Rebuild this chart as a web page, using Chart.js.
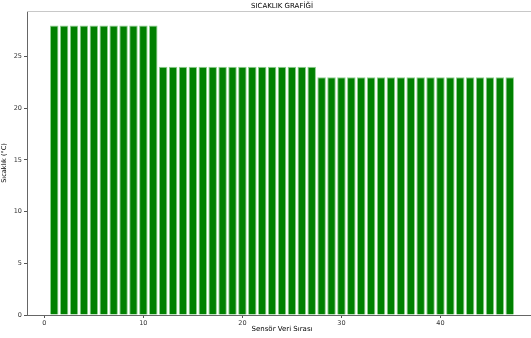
<!DOCTYPE html>
<html>
<head>
<meta charset="utf-8">
<script src="https://cdn.jsdelivr.net/npm/chart.js@4"></script>
<style>
  html, body { margin: 0; padding: 0; overflow: hidden; background: #fff; }
  #wrap { width: 531px; height: 338px; overflow: hidden; }
</style>
</head>
<body>
<div id="wrap"><canvas id="sicaklikGrafik" width="540" height="338"></canvas></div>
<script>
// sensör sırası ve sıcaklık değerleri
var sensorSira = [1, 2, 3, 4, 5, 6, 7, 8, 9, 10, 11, 12, 13, 14, 15, 16, 17, 18, 19, 20,
    21, 22, 23, 24, 25, 26, 27, 28, 29, 30, 31, 32, 33, 34, 35, 36, 37, 38, 39, 40,
    41, 42, 43, 44, 45, 46, 47];
var sicaklik = [28, 28, 28, 28, 28, 28, 28, 28, 28, 28, 28,
    24, 24, 24, 24, 24, 24, 24, 24, 24, 24, 24, 24, 24, 24, 24, 24,
    23, 23, 23, 23, 23, 23, 23, 23, 23, 23, 23, 23, 23, 23, 23, 23, 23, 23, 23, 23];
var xTicks = [0, 10, 20, 30, 40];
var yTicks = [0, 5, 10, 15, 20, 25];

var fontFamily = '"DejaVu Sans", sans-serif';

// üst ve sağ çerçeve çizgisi
var cerceve = {
    id: 'cerceve',
    afterDraw: function (chart) {
        var a = chart.chartArea, c = chart.ctx;
        c.save();
        c.strokeStyle = '#c8c8c8';
        c.lineWidth = 1;
        c.beginPath();
        c.moveTo(a.left, a.top + 0.5);
        c.lineTo(a.right, a.top + 0.5);
        c.lineTo(a.right, a.bottom);
        c.stroke();
        c.restore();
    }
};

var ctx = document.getElementById('sicaklikGrafik').getContext('2d');
var grafik = new Chart(ctx, {
    type: 'bar',
    data: {
        datasets: [{
            label: 'Sıcaklık',
            data: sensorSira.map(function (s, i) { return { x: s, y: sicaklik[i] }; }),
            backgroundColor: '#008000',
            borderColor: '#8fd08f',
            borderWidth: 1,
            barPercentage: 0.86,
            categoryPercentage: 1
        }]
    },
    options: {
        responsive: false,
        animation: false,
        layout: { padding: { right: 3, left: 0, top: 0, bottom: 0 } },
        plugins: {
            legend: { display: false },
            tooltip: { enabled: false },
            title: {
                display: true,
                text: 'SICAKLIK GRAFİĞİ',
                fullSize: false,
                color: '#000',
                font: { family: fontFamily, size: 7, weight: 'normal', lineHeight: 1.2 },
                padding: { top: 1.5, bottom: 1.1 }
            }
        },
        scales: {
            x: {
                type: 'linear',
                min: -1.75,
                max: 49.75,
                offset: false,
                afterBuildTicks: function (s) { s.ticks = xTicks.map(function (v) { return { value: v }; }); },
                afterFit: function (s) { s.height = 23; },
                grid: { drawOnChartArea: false, offset: false, tickLength: 3, color: '#555' },
                border: { color: '#666', width: 1 },
                ticks: { color: '#333', font: { family: fontFamily, size: 6.5 }, padding: 1, maxRotation: 0 },
                title: {
                    display: true,
                    text: 'Sensör Veri Sırası',
                    color: '#000',
                    font: { family: fontFamily, size: 7 },
                    padding: { top: 0, bottom: 5 }
                }
            },
            y: {
                min: 0,
                max: 29.4,
                afterBuildTicks: function (s) { s.ticks = yTicks.map(function (v) { return { value: v }; }); },
                afterFit: function (s) { s.width = 27; },
                grid: { drawOnChartArea: false, offset: false, tickLength: 3, color: '#555' },
                border: { color: '#666', width: 1 },
                ticks: { color: '#333', font: { family: fontFamily, size: 6.5 }, padding: 2 },
                title: {
                    display: true,
                    text: 'Sıcaklık (°C)',
                    color: '#000',
                    font: { family: fontFamily, size: 6.5 },
                    padding: { top: 0, bottom: 0 }
                }
            }
        }
    },
    plugins: [cerceve]
});
</script>
</body>
</html>
